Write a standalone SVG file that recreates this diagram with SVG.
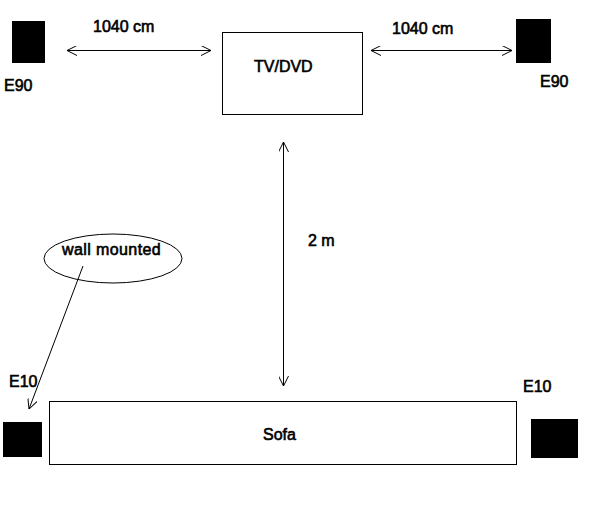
<svg xmlns="http://www.w3.org/2000/svg" width="590" height="517" viewBox="0 0 590 517">
<style>
text{font-family:"Liberation Sans",Arial,sans-serif;font-size:16px;fill:#000;stroke:#000;stroke-width:0.6}
.box{fill:#fff;stroke:#000;stroke-width:1}
.spk{fill:#000}
.conn{stroke:#000;stroke-width:1;fill:none}
</style>
<defs>
<marker id="ah" viewBox="0 0 10 10" refX="10" refY="5" markerWidth="10" markerHeight="10" markerUnits="userSpaceOnUse" orient="auto-start-reverse">
<path d="M0,0 L10,5 L0,10" fill="none" stroke="#000" stroke-width="1"/>
</marker>
</defs>
<rect width="590" height="517" fill="#fff"/>
<g id="speaker-e90-left"><rect class="spk" x="12" y="21" width="33" height="42"/><text x="4" y="91">E90</text></g>
<g id="speaker-e90-right"><rect class="spk" x="516" y="19" width="35" height="44"/><text x="540" y="87">E90</text></g>
<g id="tv"><rect class="box" x="222.5" y="32.5" width="140" height="82"/><text x="254" y="72">TV/DVD</text></g>
<g id="sofa"><rect class="box" x="49.5" y="401.5" width="467" height="63"/><text x="263" y="440">Sofa</text></g>
<g id="speaker-e10-left"><rect class="spk" x="3" y="422" width="39" height="35"/><text x="9" y="387">E10</text></g>
<g id="speaker-e10-right"><rect class="spk" x="531" y="419" width="47" height="39"/><text x="523" y="392">E10</text></g>
<g id="note"><ellipse class="box" cx="113" cy="258.5" rx="69" ry="24.5"/><text x="62" y="255" letter-spacing="0.4">wall mounted</text></g>
<g id="connectors">
<line class="conn" x1="67" y1="50.5" x2="211" y2="50.5" marker-start="url(#ah)" marker-end="url(#ah)"/>
<text x="93" y="32">1040 cm</text>
<line class="conn" x1="371" y1="50.5" x2="512" y2="50.5" marker-start="url(#ah)" marker-end="url(#ah)"/>
<text x="392" y="34">1040 cm</text>
<line class="conn" x1="283.5" y1="142" x2="283.5" y2="386" marker-start="url(#ah)" marker-end="url(#ah)"/>
<text x="308" y="246">2 m</text>
<line class="conn" x1="83" y1="266" x2="29" y2="409" marker-end="url(#ah)"/>
</g>
</svg>
